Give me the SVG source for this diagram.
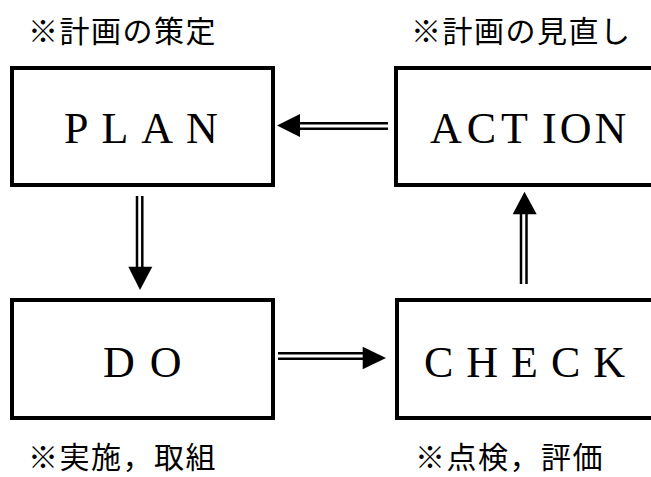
<svg xmlns="http://www.w3.org/2000/svg" width="651" height="477" viewBox="0 0 651 477">
<style>
.box{fill:#fff;stroke:#000;stroke-width:4}
.lbl{font-family:"Liberation Serif","Times New Roman",serif;font-size:44px;fill:#000}
.note{font-family:"Noto Sans CJK JP","Noto Sans CJK SC",sans-serif;font-size:30px;letter-spacing:1.5px;fill:#000}
.ln{stroke:#000;stroke-width:2.5;fill:none}
.hd{fill:#000}
</style>
<rect width="651" height="477" fill="#fff"/>
<g id="plan">
<rect class="box" x="12" y="68" width="261" height="117"/>
<text class="lbl" x="64" y="143" letter-spacing="13">PLAN</text>
</g>
<g id="action">
<rect class="box" x="396" y="68" width="262" height="117"/>
<text class="lbl" y="143"><tspan x="430" letter-spacing="5">ACT</tspan><tspan x="542" letter-spacing="3">ION</tspan></text>
</g>
<g id="do">
<rect class="box" x="12" y="300" width="261" height="118"/>
<text class="lbl" x="103" y="377" letter-spacing="15">DO</text>
</g>
<g id="check">
<rect class="box" x="397" y="300" width="262" height="118"/>
<text class="lbl" x="424" y="377" letter-spacing="13">CHECK</text>
</g>
<g id="notes">
<text class="note" x="28" y="42">※計画の策定</text>
<text class="note" x="411" y="42">※計画の見直し</text>
<text class="note" x="28" y="468">※実施，取組</text>
<text class="note" x="415" y="468">※点検，評価</text>
</g>
<g id="connectors">
<line class="ln" x1="300" y1="123.3" x2="388" y2="123.3"/>
<line class="ln" x1="300" y1="128.7" x2="388" y2="128.7"/>
<polygon class="hd" points="277,125.5 300,114 300,137"/>
<line class="ln" x1="137" y1="196" x2="137" y2="267"/>
<line class="ln" x1="142.3" y1="196" x2="142.3" y2="267"/>
<polygon class="hd" points="128.3,266.7 152.3,266.7 140,290"/>
<line class="ln" x1="278" y1="353.3" x2="363" y2="353.3"/>
<line class="ln" x1="278" y1="358.8" x2="363" y2="358.8"/>
<polygon class="hd" points="362.7,346.7 362.7,369.3 386,358"/>
<line class="ln" x1="521" y1="214" x2="521" y2="284"/>
<line class="ln" x1="526.5" y1="214" x2="526.5" y2="284"/>
<polygon class="hd" points="512.7,214.3 536.7,214.3 524.5,191.7"/>
</g>
</svg>
